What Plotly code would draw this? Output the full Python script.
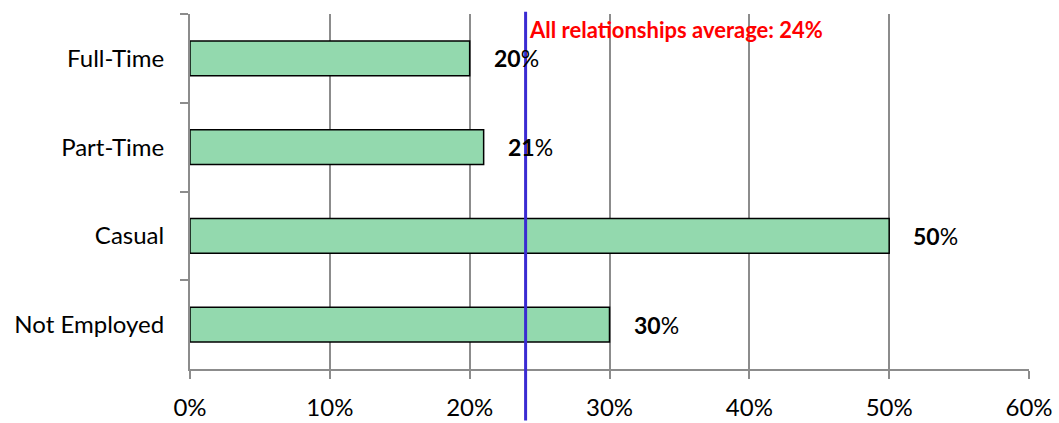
import plotly.graph_objects as go

# Share of respondents by employment status
categories = ["Full-Time", "Part-Time", "Casual", "Not Employed"]
values = [20, 21, 50, 30]
average_value = 24
average_label = "All relationships average: 24%"
x_ticks = [0, 10, 20, 30, 40, 50, 60]
x_tick_labels = ["0%", "10%", "20%", "30%", "40%", "50%", "60%"]

font_family = "Lato, 'Open Sans', sans-serif"
grid_grey = "#8c8c8c"

fig = go.Figure()

fig.add_trace(go.Bar(
    y=categories,
    x=values,
    orientation="h",
    width=0.39,
    marker=dict(color="#93d9ae", line=dict(color="#000000", width=1.5)),
    hoverinfo="skip",
))

# Value labels beside each bar: bold number, regular percent sign
for cat, val in zip(categories, values):
    fig.add_annotation(
        x=val, y=cat, xref="x", yref="y",
        text=f"<b>{val}</b>%",
        showarrow=False, xanchor="left", yanchor="middle",
        xshift=22,
        font=dict(family=font_family, size=23, color="#000000"),
    )

# Reference line for the overall average
fig.add_shape(
    type="line", xref="x", yref="paper",
    x0=average_value, x1=average_value, y0=-0.145, y1=1.006,
    line=dict(color="#3a2bd2", width=3),
)
fig.add_annotation(
    x=average_value, y=1.0, xref="x", yref="paper",
    text=f"<b>{average_label}</b>",
    showarrow=False, xanchor="left", yanchor="top",
    xshift=1, yshift=0,
    font=dict(family=font_family, size=22, color="#ff0000"),
)

fig.update_layout(
    width=1059, height=423,
    margin=dict(l=190, r=30, t=14, b=54, autoexpand=False),
    paper_bgcolor="white", plot_bgcolor="white",
    showlegend=False,
    font=dict(family=font_family, size=24, color="#000000"),
    bargap=0.61,
)

fig.update_xaxes(
    range=[0, 60],
    tickvals=x_ticks, ticktext=x_tick_labels,
    showgrid=True, gridcolor=grid_grey, gridwidth=1.5,
    zeroline=False,
    showline=True, linecolor=grid_grey, linewidth=2,
    ticks="outside", ticklen=8, tickcolor=grid_grey, tickwidth=1.5,
    ticklabelstandoff=8,
    automargin=False,
    tickfont=dict(family=font_family, size=24, color="#000000"),
    fixedrange=True,
)

fig.update_yaxes(
    categoryorder="array", categoryarray=categories,
    autorange="reversed",
    showgrid=False, zeroline=False,
    showline=True, linecolor=grid_grey, linewidth=2,
    ticks="outside", tickson="boundaries", ticklen=8,
    tickcolor=grid_grey, tickwidth=1.5,
    ticklabelstandoff=19,
    automargin=False,
    tickfont=dict(family=font_family, size=24, color="#000000"),
    fixedrange=True,
)

fig.write_html("out.html")
